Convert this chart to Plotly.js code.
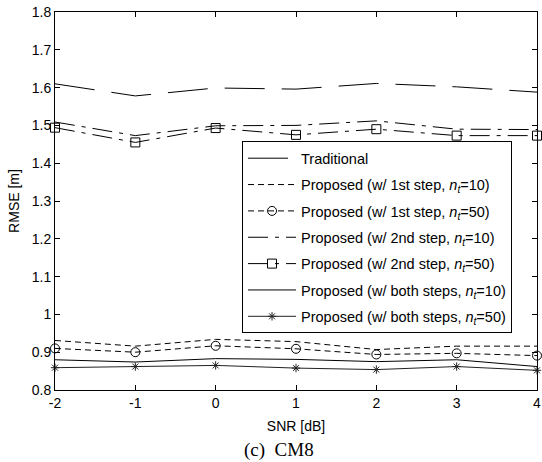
<!DOCTYPE html>
<html>
<head>
<meta charset="utf-8">
<script src="https://cdn.plot.ly/plotly-3.0.1.min.js"></script>
<style>html,body{margin:0;padding:0;background:#fff;}#chart{width:542px;height:462px;}</style>
</head>
<body>
<div id="chart"></div>
<script>
const snr = [-2, -1, 0, 1, 2, 3, 4];
const traditional = [1.610, 1.578, 1.599, 1.596, 1.611, 1.602, 1.588];
const step1_nt10 = [0.931, 0.916, 0.934, 0.928, 0.907, 0.916, 0.916];
const step1_nt50 = [0.910, 0.900, 0.917, 0.909, 0.894, 0.897, 0.891];
const step2_nt10 = [1.509, 1.473, 1.499, 1.500, 1.512, 1.490, 1.489];
const step2_nt50 = [1.494, 1.455, 1.493, 1.475, 1.490, 1.473, 1.473];
const both_nt10 = [0.880, 0.874, 0.883, 0.881, 0.875, 0.880, 0.862];
const both_nt50 = [0.859, 0.862, 0.865, 0.858, 0.854, 0.862, 0.852];
const seriesNames = [
  'Traditional',
  'Proposed (w/ 1st step, <i>n</i><sub><i>t</i></sub>=10)',
  'Proposed (w/ 1st step, <i>n</i><sub><i>t</i></sub>=50)',
  'Proposed (w/ 2nd step, <i>n</i><sub><i>t</i></sub>=10)',
  'Proposed (w/ 2nd step, <i>n</i><sub><i>t</i></sub>=50)',
  'Proposed (w/ both steps, <i>n</i><sub><i>t</i></sub>=10)',
  'Proposed (w/ both steps, <i>n</i><sub><i>t</i></sub>=50)'
];
const yTickVals = [0.8, 0.9, 1.0, 1.1, 1.2, 1.3, 1.4, 1.5, 1.6, 1.7, 1.8];
const yTickText = ['0.8', '0.9', '1', '1.1', '1.2', '1.3', '1.4', '1.5', '1.6', '1.7', '1.8'];
const xTickVals = [-2, -1, 0, 1, 2, 3, 4];

const seriesData = [traditional, step1_nt10, step1_nt50, step2_nt10, step2_nt50, both_nt10, both_nt50];
const styles = [
  {dash: '40px,17px', symbol: null, color: '#000'},
  {dash: '6px,4px', symbol: null, color: '#000'},
  {dash: '6px,4px', symbol: 'circle-open', color: '#000'},
  {dash: '20px,7px,4px,7px', symbol: null, color: '#000'},
  {dash: '20px,7px,4px,7px', symbol: 'square-open', color: '#000'},
  {dash: 'solid', symbol: null, color: '#000'},
  {dash: 'solid', symbol: 'asterisk-open', color: '#222'}
];

const traces = seriesData.map((ys, i) => {
  const st = styles[i];
  const t = {
    x: snr, y: ys, name: seriesNames[i], type: 'scatter',
    legendgroup: 'g' + i,
    mode: st.symbol ? 'lines+markers' : 'lines',
    line: {color: st.color, width: 1, dash: st.dash},
    cliponaxis: false
  };
  if (st.symbol) {
    t.marker = {symbol: st.symbol, size: st.symbol === 'asterisk-open' ? 7 : 9,
                color: st.color, line: {color: st.color, width: 1}};
  }
  return t;
});

const FONT = 'Liberation Sans, Arial, sans-serif';
const axisCommon = {
  showline: true, linecolor: '#000', linewidth: 1, mirror: 'ticks',
  ticks: 'inside', ticklen: 5, tickcolor: '#000', tickwidth: 1,
  showgrid: false, zeroline: false,
  tickfont: {family: FONT, size: 14, color: '#000'}
};

const layout = {
  width: 542, height: 462,
  margin: {l: 55, r: 5, t: 12, b: 72},
  paper_bgcolor: '#fff', plot_bgcolor: '#fff',
  showlegend: true,
  xaxis: Object.assign({}, axisCommon, {
    range: [-2, 4], tickvals: xTickVals, ticktext: xTickVals.map(String),
    title: {text: 'SNR [dB]', font: {family: FONT, size: 14, color: '#000'}, standoff: 11}
  }),
  yaxis: Object.assign({}, axisCommon, {
    range: [0.8, 1.8], tickvals: yTickVals, ticktext: yTickText,
    title: {text: 'RMSE [m]', font: {family: FONT, size: 14, color: '#000'}, standoff: 8}
  }),
  legend: {
    x: 0.388, y: 0.658, xanchor: 'left', yanchor: 'top',
    bgcolor: '#fff', bordercolor: '#000', borderwidth: 1,
    font: {family: FONT, size: 14.5, color: '#000'},
    traceorder: 'grouped', tracegroupgap: 4.5, itemwidth: 48
  },
  annotations: [{
    text: '(c)\u00a0 CM8', xref: 'paper', yref: 'paper', x: 0.465, y: -0.159,
    xanchor: 'center', yanchor: 'middle', showarrow: false,
    font: {family: 'Liberation Serif, Times New Roman, serif', size: 19, color: '#000'}
  }]
};

Plotly.newPlot('chart', traces, layout, {displayModeBar: false, staticPlot: true});
</script>
</body>
</html>
